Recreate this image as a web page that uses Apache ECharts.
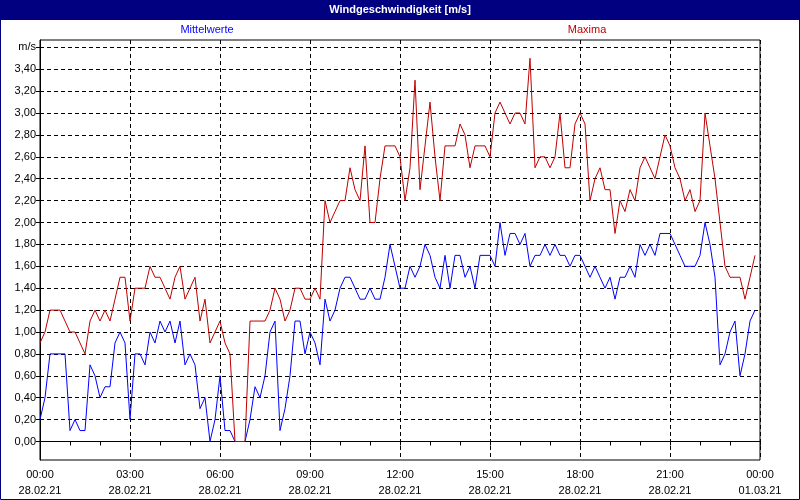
<!DOCTYPE html>
<html><head><meta charset="utf-8">
<script src="https://cdn.jsdelivr.net/npm/echarts@6/dist/echarts.min.js"></script>
<style>html,body{margin:0;padding:0;background:#fff}#c{width:800px;height:500px}</style>
</head><body><div id="c"></div>
<script>
// 10-minute values, 28.02.21 00:00 .. 23:50
const mittelwerte = [
0.2,0.4,0.8,0.8,0.8,0.8,0.1,0.2,0.1,0.1,0.7,0.6,0.4,0.5,0.5,0.9,1.0,0.9,
0.2,0.8,0.8,0.7,1.0,0.9,1.1,1.0,1.1,0.9,1.1,0.7,0.8,0.7,0.3,0.4,0.0,0.2,
0.6,0.1,0.1,0.0,0.0,0.0,0.2,0.5,0.4,0.6,1.0,1.1,0.1,0.3,0.6,1.1,1.1,0.8,
1.0,0.9,0.7,1.3,1.1,1.2,1.4,1.5,1.5,1.4,1.3,1.3,1.4,1.3,1.3,1.5,1.8,1.6,
1.4,1.4,1.6,1.5,1.6,1.8,1.7,1.5,1.4,1.7,1.4,1.7,1.7,1.5,1.6,1.4,1.7,1.7,
1.7,1.6,2.0,1.7,1.9,1.9,1.8,1.9,1.6,1.7,1.7,1.8,1.7,1.8,1.7,1.7,1.6,1.7,
1.7,1.6,1.5,1.6,1.5,1.4,1.5,1.3,1.5,1.5,1.6,1.5,1.8,1.7,1.8,1.7,1.9,1.9,
1.9,1.8,1.7,1.6,1.6,1.6,1.7,2.0,1.8,1.5,0.7,0.8,1.0,1.1,0.6,0.8,1.1,1.2
];
const maxima = [
0.9,1.0,1.2,1.2,1.2,1.1,1.0,1.0,0.9,0.8,1.1,1.2,1.1,1.2,1.1,1.3,1.5,1.5,
1.1,1.4,1.4,1.4,1.6,1.5,1.5,1.4,1.3,1.5,1.6,1.3,1.4,1.5,1.1,1.3,0.9,1.0,
1.1,0.9,0.8,0.0,0.0,0.0,1.1,1.1,1.1,1.1,1.2,1.4,1.3,1.1,1.2,1.4,1.4,1.3,
1.3,1.4,1.3,2.2,2.0,2.1,2.2,2.2,2.5,2.3,2.2,2.7,2.0,2.0,2.4,2.7,2.7,2.7,
2.6,2.2,2.5,3.3,2.3,2.7,3.1,2.6,2.2,2.7,2.7,2.7,2.9,2.8,2.5,2.7,2.7,2.7,
2.6,3.0,3.1,3.0,2.9,3.0,3.0,2.9,3.5,2.5,2.6,2.6,2.5,2.6,3.0,2.5,2.5,2.9,
3.0,2.9,2.2,2.4,2.5,2.3,2.3,1.9,2.2,2.1,2.3,2.2,2.5,2.6,2.5,2.4,2.6,2.8,
2.7,2.5,2.4,2.2,2.3,2.1,2.2,3.0,2.7,2.4,2.0,1.6,1.5,1.5,1.5,1.3,1.5,1.7
];
const stepMinutes = 10;
const xTickValues = [0,180,360,540,720,900,1080,1260,1440];
const xTimeLabels = ['00:00','03:00','06:00','09:00','12:00','15:00','18:00','21:00','00:00'];
const xDateLabels = ['28.02.21','28.02.21','28.02.21','28.02.21','28.02.21','28.02.21','28.02.21','28.02.21','01.03.21'];
const yTickValues = [0,0.2,0.4,0.6,0.8,1.0,1.2,1.4,1.6,1.8,2.0,2.2,2.4,2.6,2.8,3.0,3.2,3.4,3.6];
const yTickLabels = ['0,00','0,20','0,40','0,60','0,80','1,00','1,20','1,40','1,60','1,80','2,00','2,20','2,40','2,60','2,80','3,00','3,20','3,40','m/s'];
const titleText = 'Windgeschwindigkeit [m/s]';
const seriesNames = ['Mittelwerte','Maxima'];

const FONT = "'Liberation Sans Narrow', 'Arial Narrow', sans-serif";
const toPairs = arr => arr.map((v, i) => [i * stepMinutes, v]);
const nearestIdx = (arr, v) => { let b = 0; for (let k = 1; k < arr.length; k++) if (Math.abs(arr[k]-v) < Math.abs(arr[b]-v)) b = k; return b; };
const dash = { color: '#000', width: 1, type: [4, 3] };

const chart = echarts.init(document.getElementById('c'), null, { renderer: 'canvas' });
chart.setOption({
  animation: false,
  backgroundColor: '#ffffff',
  grid: { left: 40, right: 40, top: 40, bottom: 40, show: true, borderColor: '#000', borderWidth: 1, backgroundColor: 'transparent' },
  xAxis: {
    type: 'value', min: 0, max: 1440, interval: 180,
    axisLine: { show: true, lineStyle: { color: '#000', width: 1 } },
    axisTick: { show: true, length: 4, lineStyle: { color: '#000' } },
    minorTick: { show: true, splitNumber: 3, length: 4, lineStyle: { color: '#000' } },
    splitLine: { show: true, lineStyle: dash },
    minorSplitLine: { show: false },
    axisLabel: {
      fontFamily: FONT, fontSize: 11, color: '#000', lineHeight: 16, margin: 7,
      showMinLabel: true, showMaxLabel: true,
      formatter: v => { const k = nearestIdx(xTickValues, v); return xTimeLabels[k] + '\n' + xDateLabels[k]; }
    }
  },
  yAxis: {
    type: 'value', min: -0.169, max: 3.667,
    axisLine: { show: true, lineStyle: { color: '#000', width: 1 } },
    axisTick: { show: true, length: 4, lineStyle: { color: '#000' }, customValues: yTickValues },
    splitLine: { show: true, lineStyle: dash },
    axisLabel: {
      customValues: yTickValues,
      fontFamily: FONT, fontSize: 11, color: '#000', margin: 4,
      formatter: v => yTickLabels[nearestIdx(yTickValues, v)]
    }
  },
  series: [
    { name: seriesNames[0], type: 'line', data: toPairs(mittelwerte), showSymbol: false, symbol: 'none',
      lineStyle: { color: '#0000ff', width: 1 }, itemStyle: { color: '#0000ff' }, z: 3 },
    { name: seriesNames[1], type: 'line', data: toPairs(maxima), showSymbol: false, symbol: 'none',
      lineStyle: { color: '#c00000', width: 1 }, itemStyle: { color: '#c00000' }, z: 4 }
  ],
  graphic: [
    { type: 'rect', shape: { x: 0, y: 0, width: 800, height: 20 }, style: { fill: '#000080' }, z: 10 },
    { type: 'text', x: 400, y: 10, style: { text: titleText, fill: '#fff', font: "bold 11px " + FONT, align: 'center', verticalAlign: 'middle' }, z: 11 },
    { type: 'text', x: 207, y: 30, style: { text: seriesNames[0], fill: '#0000ff', font: "11px " + FONT, align: 'center', verticalAlign: 'middle' }, z: 11 },
    { type: 'text', x: 587, y: 30, style: { text: seriesNames[1], fill: '#c00000', font: "11px " + FONT, align: 'center', verticalAlign: 'middle' }, z: 11 },
    { type: 'rect', shape: { x: 0.5, y: 0.5, width: 799, height: 499 }, style: { fill: 'none', stroke: '#000080', lineWidth: 1 }, z: 12 }
  ]
});
</script>
</body></html>
